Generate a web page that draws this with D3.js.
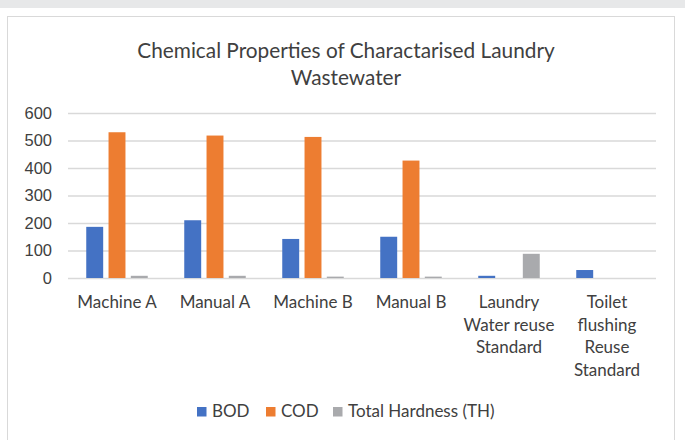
<!DOCTYPE html>
<html>
<head>
<meta charset="utf-8">
<script src="https://cdnjs.cloudflare.com/ajax/libs/d3/7.8.5/d3.min.js"></script>
<style>
  body { margin: 0; background: #fff; }
  svg { display: block; font-family: Lato, "Liberation Sans", sans-serif; }
  .tick text { fill: #404040; font-size: 16.5px; }
</style>
</head>
<body>
<svg width="685" height="440"></svg>
<script>
const categories = [
    ["Machine A"],
    ["Manual A"],
    ["Machine B"],
    ["Manual B"],
    ["Laundry", "Water reuse", "Standard"],
    ["Toilet", "flushing", "Reuse", "Standard"]
];
const seriesNames = ["BOD", "COD", "Total Hardness (TH)"];
const bod = [186, 210, 142, 150, 8, 29];
const cod = [530, 518, 513, 427, 0, 0];
const th = [8, 8, 5, 5, 88, 0];
const yTicks = [0, 100, 200, 300, 400, 500, 600];
const colors = ["#4472C4", "#ED7D31", "#A9AAAD"];

const svg = d3.select("svg");
const width = 685;
const height = 440;

const margin = { top: 113, right: 29, bottom: 162, left: 68 };

// frame
svg.append("rect").attr("x", 0).attr("y", 0).attr("width", width).attr("height", 8).attr("fill", "#e7e8e9");
svg.append("rect").attr("x", 7.5).attr("y", 16.5).attr("width", 667).attr("height", 440)
    .attr("fill", "#fff").attr("stroke", "#d9d9d9");

const series = [bod, cod, th];
const data = categories.map((c, i) => ({ cat: i, values: series.map(s => s[i]) }));

const xScale = d3.scaleBand()
    .domain(d3.range(categories.length))
    .range([margin.left, width - margin.right])
    .paddingInner(0)
    .paddingOuter(0);

const xInner = d3.scaleBand()
    .domain(d3.range(seriesNames.length))
    .range([(xScale.bandwidth() - 61.5) / 2, (xScale.bandwidth() + 61.5) / 2])
    .paddingInner(0.24);

const yScale = d3.scaleLinear()
    .domain([0, 600])
    .range([height - margin.bottom, margin.top]);

const yAxis = d3.axisLeft(yScale)
    .tickValues(yTicks)
    .tickSize(-(width - margin.left - margin.right))
    .tickPadding(16);

const gy = svg.append("g")
    .attr("transform", `translate(${margin.left}, 0)`)
    .call(yAxis);
gy.select(".domain").remove();
gy.selectAll(".tick line").attr("stroke", "#d9d9d9").attr("stroke-width", 1.3);

const groups = svg.selectAll(".group")
    .data(data)
    .join("g")
    .attr("transform", d => `translate(${xScale(d.cat)}, 0)`);

groups.selectAll("rect")
    .data(d => d.values.map((v, j) => ({ v, j })))
    .join("rect")
    .attr("x", d => xInner(d.j))
    .attr("width", xInner.bandwidth())
    .attr("y", d => yScale(d.v))
    .attr("height", d => yScale(0) - yScale(d.v))
    .attr("fill", d => colors[d.j]);

// x labels
const xl = svg.append("g");
categories.forEach((lines, i) => {
    const t = xl.append("text")
        .attr("x", xScale(i) + xScale.bandwidth() / 2)
        .attr("y", 308)
        .attr("text-anchor", "middle")
        .attr("fill", "#404040")
        .style("font-size", "17px");
    lines.forEach((l, k) => {
        t.append("tspan")
            .attr("x", xScale(i) + xScale.bandwidth() / 2)
            .attr("dy", k === 0 ? 0 : 22.5)
            .text(l);
    });
});

// title
svg.append("text")
    .attr("x", 346)
    .attr("y", 58)
    .attr("text-anchor", "middle")
    .attr("fill", "#404040")
    .style("font-size", "20.8px")
    .text("Chemical Properties of Charactarised Laundry");

svg.append("text")
    .attr("x", 346)
    .attr("y", 85)
    .attr("text-anchor", "middle")
    .attr("fill", "#404040")
    .style("font-size", "20.8px")
    .text("Wastewater");

// legend
const legendX = [197, 266, 333];
const legend = svg.append("g");
seriesNames.forEach((name, i) => {
    legend.append("rect")
    .attr("x", legendX[i])
    .attr("y", 407)
    .attr("width", 9.5)
    .attr("height", 9.5)
    .attr("fill", colors[i]);
    legend.append("text")
    .attr("x", legendX[i] + 15)
    .attr("y", 417)
    .attr("fill", "#404040")
    .style("font-size", "17px")
    .text(name);
});
</script>
</body>
</html>
